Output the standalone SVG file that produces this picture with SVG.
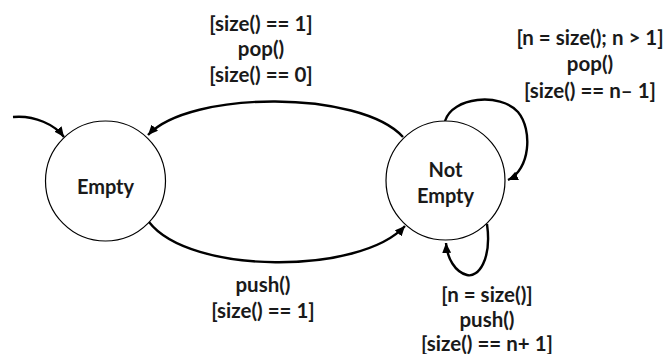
<svg xmlns="http://www.w3.org/2000/svg" width="666" height="354" viewBox="0 0 666 354">
<style>
.node{fill:#fff;stroke:#000;stroke-width:1.2}
.edge{fill:none;stroke:#000;stroke-width:2.4}
text{font-family:Lato,"Open Sans","Liberation Sans",sans-serif;font-weight:bold;font-size:20.5px;fill:#1a1a1a;text-anchor:middle}
.nl{font-size:20px}
</style>
<defs>
<marker id="ah" markerUnits="userSpaceOnUse" markerWidth="11" markerHeight="9" refX="10" refY="4.5" orient="auto">
<path d="M0,0 L10,4.5 L0,9 z" fill="#000"/>
</marker>
</defs>
<rect width="666" height="354" fill="#fff"/>
<g id="connectors">
<path class="edge" d="M13,117 C35,115 55,125 64,137" marker-end="url(#ah)"/>
<path class="edge" d="M403,137 C360,90 190,90 148,135" marker-end="url(#ah)"/>
<path class="edge" d="M149,222 C190,275 360,275 405,226" marker-end="url(#ah)"/>
<path class="edge" d="M445,121 C452,97 500,92 518,112 C533,130 530,170 508,180" marker-end="url(#ah)"/>
<path class="edge" d="M487,224 C492,260 478,278 467,275 C455,272 447,258 446,243" marker-end="url(#ah)"/>
</g>
<g id="empty">
<circle class="node" cx="105.5" cy="181" r="60"/>
<text class="nl" x="105.5" y="194">Empty</text>
</g>
<g id="not-empty">
<circle class="node" cx="445.5" cy="180.5" r="59.5"/>
<text class="nl" x="445.5" y="177">Not</text>
<text class="nl" x="445.5" y="203">Empty</text>
</g>
<g id="labels">
<text x="261" y="31">[size() == 1]</text>
<text x="261" y="56">pop()</text>
<text x="261" y="82">[size() == 0]</text>
<text x="590" y="45">[n = size(); n &gt; 1]</text>
<text x="590" y="71">pop()</text>
<text x="590" y="98">[size() == n– 1]</text>
<text x="263" y="292">push()</text>
<text x="263" y="318">[size() == 1]</text>
<text x="487" y="302">[n = size()]</text>
<text x="487" y="327">push()</text>
<text x="487" y="351">[size() == n+ 1]</text>
</g>
</svg>
